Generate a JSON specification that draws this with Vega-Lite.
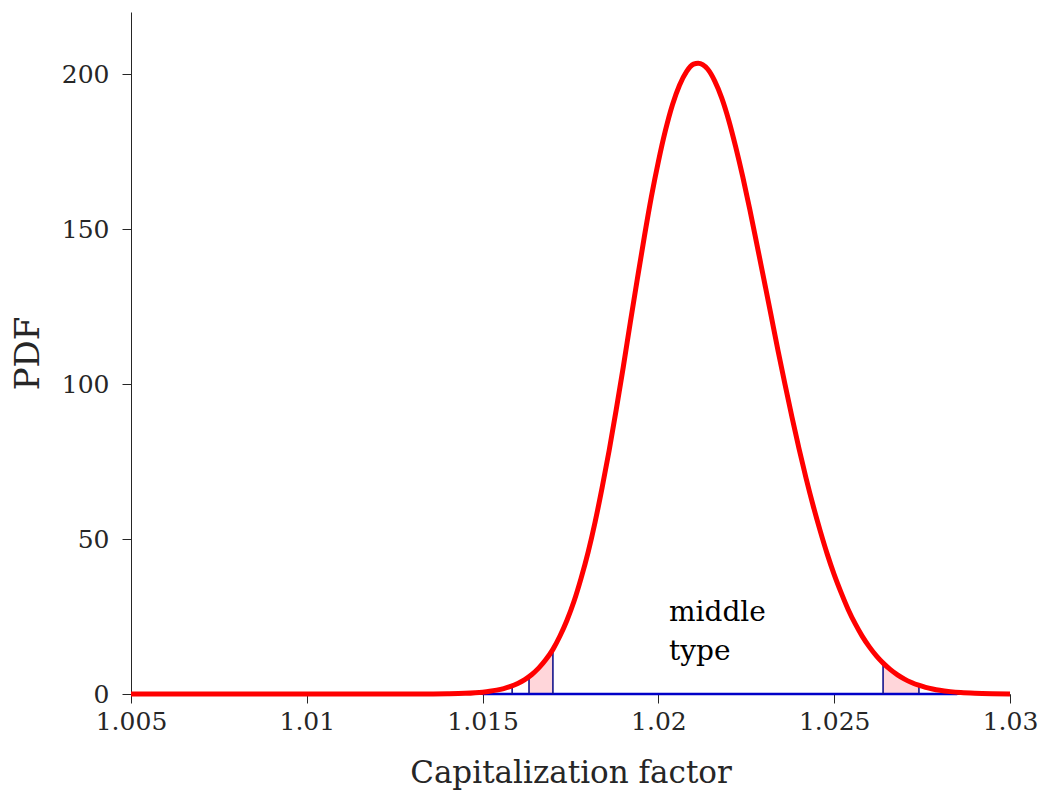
{
  "$schema": "https://vega.github.io/schema/vega-lite/v6.json",
  "width": 879,
  "height": 682,
  "autosize": "none",
  "padding": {"left": 131, "top": 12, "right": 34, "bottom": 102},
  "background": "white",
  "config": {
    "font": "DejaVu Serif",
    "view": {"stroke": null},
    "axis": {
      "grid": false,
      "domainColor": "#262626",
      "tickColor": "#262626",
      "labelColor": "#262626",
      "titleColor": "#262626",
      "labelFont": "DejaVu Serif",
      "titleFont": "DejaVu Serif",
      "labelFontSize": 25,
      "titleFontSize": 31,
      "titleFontWeight": "normal",
      "tickSize": 9,
      "domainWidth": 1,
      "tickWidth": 1
    }
  },
  "datasets": {
    "curve": [
      {"x": 1.005, "y": 0}, {"x": 1.010, "y": 0}, {"x": 1.012, "y": 0.0005},
      {"x": 1.013, "y": 0.007}, {"x": 1.0135, "y": 0.024}, {"x": 1.014, "y": 0.075},
      {"x": 1.0145, "y": 0.22}, {"x": 1.015, "y": 0.59}, {"x": 1.0152, "y": 0.86},
      {"x": 1.0154, "y": 1.24}, {"x": 1.0156, "y": 1.75}, {"x": 1.0158, "y": 2.45},
      {"x": 1.016, "y": 3.41}, {"x": 1.0162, "y": 4.65}, {"x": 1.0164, "y": 6.29},
      {"x": 1.0166, "y": 8.42}, {"x": 1.0168, "y": 11.1}, {"x": 1.017, "y": 14.4},
      {"x": 1.0172, "y": 18.7}, {"x": 1.0174, "y": 23.8}, {"x": 1.0176, "y": 29.9},
      {"x": 1.0178, "y": 37.3}, {"x": 1.018, "y": 45.7}, {"x": 1.0182, "y": 55.5},
      {"x": 1.0184, "y": 66.6}, {"x": 1.0186, "y": 78.6}, {"x": 1.0188, "y": 91.7},
      {"x": 1.019, "y": 105.4}, {"x": 1.0192, "y": 119.8}, {"x": 1.0194, "y": 133.8},
      {"x": 1.0196, "y": 147.5}, {"x": 1.0198, "y": 160.4}, {"x": 1.02, "y": 171.8},
      {"x": 1.0202, "y": 181.8}, {"x": 1.0204, "y": 190.1}, {"x": 1.0206, "y": 196.4},
      {"x": 1.0208, "y": 200.8}, {"x": 1.021, "y": 203.2}, {"x": 1.02113, "y": 203.5},
      {"x": 1.0214, "y": 201.6}, {"x": 1.0216, "y": 197.8}, {"x": 1.0218, "y": 192.3},
      {"x": 1.022, "y": 185.1}, {"x": 1.0222, "y": 176.4}, {"x": 1.0224, "y": 166.8},
      {"x": 1.0226, "y": 156.3}, {"x": 1.0228, "y": 145.1}, {"x": 1.023, "y": 133.8},
      {"x": 1.0232, "y": 122.4}, {"x": 1.0234, "y": 110.9}, {"x": 1.0236, "y": 99.9},
      {"x": 1.0238, "y": 89.3}, {"x": 1.024, "y": 79.1}, {"x": 1.0242, "y": 69.6},
      {"x": 1.0244, "y": 60.8}, {"x": 1.0246, "y": 52.7}, {"x": 1.0248, "y": 45.2},
      {"x": 1.025, "y": 38.5}, {"x": 1.0252, "y": 32.6}, {"x": 1.0254, "y": 27.2},
      {"x": 1.0256, "y": 22.6}, {"x": 1.0258, "y": 18.6}, {"x": 1.026, "y": 15.2},
      {"x": 1.0262, "y": 12.3}, {"x": 1.0264, "y": 9.87}, {"x": 1.0266, "y": 7.85},
      {"x": 1.0268, "y": 6.17}, {"x": 1.027, "y": 4.81}, {"x": 1.0272, "y": 3.72},
      {"x": 1.0274, "y": 2.84}, {"x": 1.0276, "y": 2.16}, {"x": 1.0278, "y": 1.63},
      {"x": 1.028, "y": 1.21}, {"x": 1.0283, "y": 0.77}, {"x": 1.0286, "y": 0.47},
      {"x": 1.029, "y": 0.24}, {"x": 1.0295, "y": 0.1}, {"x": 1.03, "y": 0.04}
    ],
    "shadeA": [
      {"x": 1.01632, "y": 5.47}, {"x": 1.0164, "y": 6.29}, {"x": 1.0166, "y": 8.42},
      {"x": 1.0168, "y": 11.1}, {"x": 1.017, "y": 14.4}
    ],
    "shadeB": [
      {"x": 1.02639, "y": 9.9}, {"x": 1.0266, "y": 7.85}, {"x": 1.0268, "y": 6.17},
      {"x": 1.027, "y": 4.81}, {"x": 1.0272, "y": 3.72}, {"x": 1.02741, "y": 2.8}
    ],
    "bounds": [
      {"x": 1.01584, "y0": 0, "y": 2.6}, {"x": 1.01632, "y0": 0, "y": 5.47}, {"x": 1.017, "y0": 0, "y": 14.4},
      {"x": 1.02639, "y0": 0, "y": 9.9}, {"x": 1.02741, "y0": 0, "y": 2.8}
    ],
    "base": [{"x": 1.015, "x2": 1.0285, "y": 0}],
    "label": [{"x": 1.0203, "y": 23.5, "text": "middle\ntype"}]
  },
  "layer": [
    {
      "data": {"name": "shadeA"},
      "mark": {"type": "area", "color": "#ffd6da", "opacity": 1, "interpolate": "monotone"},
      "encoding": {
        "x": {"field": "x", "type": "quantitative", "scale": {"domain": [1.005, 1.03], "nice": false, "zero": false},
          "axis": {"title": "Capitalization factor", "values": [1.005, 1.01, 1.015, 1.02, 1.025, 1.03],
            "labelExpr": "format(datum.value, '.4~f')", "labelPadding": 6, "titlePadding": 24, "labelFlush": false}},
        "y": {"field": "y", "type": "quantitative", "scale": {"domain": [0, 220], "nice": false},
          "axis": {"title": "PDF", "values": [0, 50, 100, 150, 200], "labelPadding": 13, "titlePadding": 16, "titleFontSize": 34}}
      }
    },
    {
      "data": {"name": "shadeB"},
      "mark": {"type": "area", "color": "#ffd6da", "opacity": 1, "interpolate": "monotone"},
      "encoding": {
        "x": {"field": "x", "type": "quantitative"},
        "y": {"field": "y", "type": "quantitative"}
      }
    },
    {
      "data": {"name": "base"},
      "mark": {"type": "rule", "color": "#0000c8", "strokeWidth": 2.5},
      "encoding": {
        "x": {"field": "x", "type": "quantitative"},
        "x2": {"field": "x2"},
        "y": {"field": "y", "type": "quantitative"}
      }
    },
    {
      "data": {"name": "bounds"},
      "mark": {"type": "rule", "color": "#14148c", "strokeWidth": 1.6},
      "encoding": {
        "x": {"field": "x", "type": "quantitative"},
        "y": {"field": "y0", "type": "quantitative"},
        "y2": {"field": "y"}
      }
    },
    {
      "data": {"name": "curve"},
      "mark": {"type": "line", "color": "#ff0000", "strokeWidth": 5, "interpolate": "monotone"},
      "encoding": {
        "x": {"field": "x", "type": "quantitative"},
        "y": {"field": "y", "type": "quantitative"}
      }
    },
    {
      "data": {"name": "label"},
      "mark": {"type": "text", "align": "left", "baseline": "alphabetic", "fontSize": 28, "lineBreak": "\n", "lineHeight": 39, "color": "#000000", "font": "DejaVu Serif"},
      "encoding": {
        "x": {"field": "x", "type": "quantitative"},
        "y": {"field": "y", "type": "quantitative"},
        "text": {"field": "text", "type": "nominal"}
      }
    }
  ]
}
